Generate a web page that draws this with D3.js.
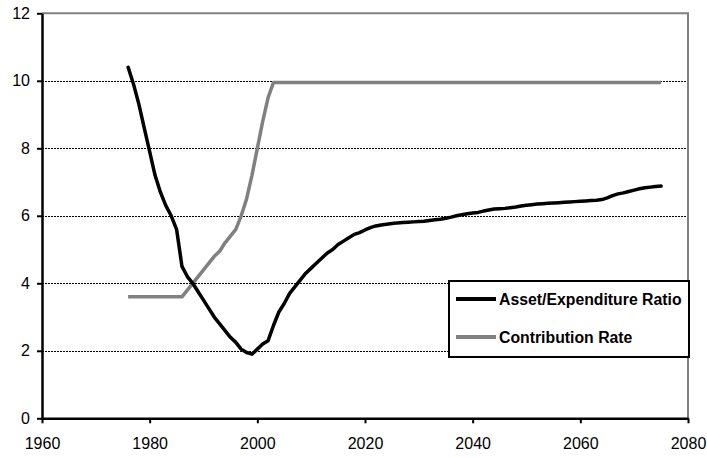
<!DOCTYPE html>
<html><head><meta charset="utf-8">
<script src="https://cdn.jsdelivr.net/npm/d3@7"></script>
<style>body{margin:0;background:#fff}svg{display:block}text{font-family:Arial,"Liberation Sans",sans-serif}</style>
</head><body><svg id="c" width="707" height="458"></svg>
<script>
const years = d3.range(1976, 2076);
const assetRatio = [10.4,9.9,9.3,8.6,7.9,7.2,6.7,6.3,6.0,5.6,
 4.5,4.2,4.0,3.75,3.5,3.25,3.0,2.8,2.6,2.4,
 2.25,2.05,1.95,1.9,2.05,2.2,2.3,2.75,3.15,3.4,
 3.7,3.9,4.1,4.3,4.45,4.6,4.75,4.9,5.0,5.15,
 5.25,5.35,5.45,5.5,5.58,5.65,5.7,5.73,5.75,5.77,
 5.79,5.8,5.81,5.82,5.83,5.84,5.86,5.88,5.9,5.93,
 5.96,6.0,6.03,6.06,6.08,6.1,6.14,6.17,6.2,6.21,
 6.22,6.24,6.26,6.29,6.31,6.33,6.35,6.36,6.37,6.38,
 6.39,6.4,6.41,6.42,6.43,6.44,6.45,6.46,6.48,6.53,
 6.6,6.65,6.68,6.72,6.76,6.8,6.83,6.85,6.87,6.88];
const contributionRate = [3.6,3.6,3.6,3.6,3.6,3.6,3.6,3.6,3.6,3.6,
 3.6,3.8,4.0,4.2,4.4,4.6,4.8,4.95,5.2,5.4,
 5.6,6.0,6.5,7.2,8.0,8.8,9.5,9.95,9.95,9.95,
 ...Array(70).fill(9.95)];
const xTicks = [1960,1980,2000,2020,2040,2060,2080];
const yTicks = [0,2,4,6,8,10,12];
const seriesNames = ["Asset/Expenditure Ratio","Contribution Rate"];
const seriesColors = ["#000000","#808080"];

const svg = d3.select("#c");
const L=42, R=688, T=13.3, B=418.3;
const x = d3.scaleLinear().domain([1960,2080]).range([L,R]);
const y = d3.scaleLinear().domain([0,12]).range([B,T]);

// gridlines
svg.append("g").selectAll("line").data(yTicks.filter(v=>v>0&&v<12)).join("line")
 .attr("x1",L).attr("x2",R).attr("y1",d=>Math.round(y(d))+0.5).attr("y2",d=>Math.round(y(d))+0.5)
 .attr("stroke","#000").attr("stroke-width",1).attr("stroke-dasharray","2,1");
// top & right border
svg.append("path").attr("d",`M${L},${T}H${R}V${B}`).attr("fill","none").attr("stroke","#808080").attr("stroke-width",2);

// axes
const xAxis = d3.axisBottom(x).tickValues(xTicks).tickFormat(d3.format("d")).tickSizeInner(5).tickSizeOuter(0).tickPadding(14);
const gx = svg.append("g").attr("transform",`translate(0,${B})`).call(xAxis);
const yAxis = d3.axisLeft(y).tickValues(yTicks).tickFormat(d3.format("d")).tickSizeInner(5).tickSizeOuter(0).tickPadding(7);
const gy = svg.append("g").attr("transform",`translate(${L},0)`).call(yAxis);
[gx,gy].forEach(g=>{
  g.select(".domain").attr("stroke","#000").attr("stroke-width",2.5);
  g.selectAll(".tick line").attr("stroke","#000").attr("stroke-width",2);
  g.selectAll(".tick text").attr("font-size","16px").attr("fill","#000").attr("font-family","Arial, 'Liberation Sans', sans-serif");
});

const line = d3.line().x((d,i)=>x(years[i])).y(d=>y(d)).curve(d3.curveLinear);
svg.append("path").datum(contributionRate).attr("d",line).attr("fill","none").attr("stroke",seriesColors[1]).attr("stroke-width",3.5).attr("stroke-linejoin","round");
svg.append("path").datum(assetRatio).attr("d",line).attr("fill","none").attr("stroke",seriesColors[0]).attr("stroke-width",3.5).attr("stroke-linejoin","round").attr("stroke-linecap","round");

// legend
const lg = svg.append("g");
lg.append("rect").attr("x",449).attr("y",281).attr("width",240).attr("height",76).attr("fill","#fff").attr("stroke","#000").attr("stroke-width",2);
seriesNames.forEach((n,i)=>{
  const yy = 299 + i*38;
  lg.append("line").attr("x1",456).attr("x2",496).attr("y1",yy).attr("y2",yy).attr("stroke",seriesColors[i]).attr("stroke-width",4);
  lg.append("text").attr("x",499).attr("y",yy+5.5).attr("font-size","15.8px").attr("font-weight","bold").attr("fill","#000").text(n);
});
</script></body></html>
